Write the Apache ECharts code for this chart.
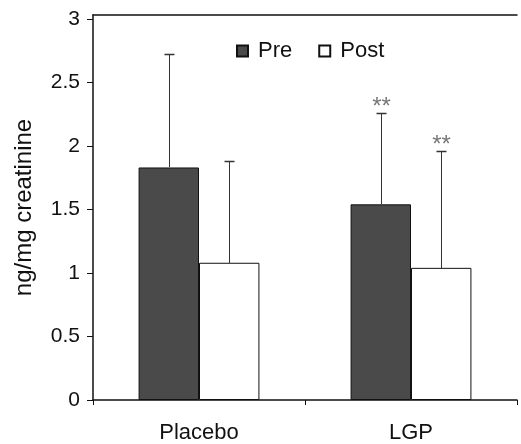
<!DOCTYPE html>
<html><head><meta charset="utf-8">
<script src="https://cdn.jsdelivr.net/npm/echarts@6/dist/echarts.min.js"></script>
<style>html,body{margin:0;padding:0;background:#fff}#c{width:521px;height:444px}</style>
</head><body><div id="c"></div>
<script>
var categories = ['Placebo', 'LGP'];
var preValues = [1.83, 1.54];
var postValues = [1.08, 1.04];
var preErrorTop = [2.72, 2.26];
var postErrorTop = [1.88, 1.96];
var preMarks = ['', '**'];
var postMarks = ['', '**'];
var seriesNames = ['Pre', 'Post'];

var FONT = '"Liberation Sans", Arial, sans-serif';
var GAP = 0.43;
function errSeries(tops, marks, side) {
  return {
    type: 'custom',
    xAxisIndex: 0, yAxisIndex: 0,
    z: 5,
    silent: true,
    data: tops.map(function (t, i) { return [i, t]; }),
    renderItem: function (params, api) {
      var i = api.value(0), top = api.value(1);
      var base = side < 0 ? preValues[i] : postValues[i];
      var band = api.size([1, 0])[0];
      var bw = band * (1 - GAP) / 2;
      var c = api.coord([i, top]);
      var b = api.coord([i, base]);
      var x = Math.round(c[0] + side * bw / 2) + 0.5;
      var yt = Math.round(c[1]) + 0.5;
      var children = [
        { type: 'line', shape: { x1: x, y1: Math.round(b[1]), x2: x, y2: yt }, style: { stroke: '#333', lineWidth: 1 } },
        { type: 'line', shape: { x1: x - 5, y1: yt, x2: x + 5, y2: yt }, style: { stroke: '#333', lineWidth: 1.5 } }
      ];
      if (marks[i]) {
        children.push({ type: 'text', style: { text: marks[i], x: x, y: yt - 18, align: 'center', verticalAlign: 'top', fill: '#777', font: '24px ' + FONT } });
      }
      return { type: 'group', children: children };
    }
  };
}

var chart = echarts.init(document.getElementById('c'), null, { renderer: 'canvas' });
chart.setOption({
  animation: false,
  backgroundColor: '#fff',
  textStyle: { fontFamily: FONT },
  grid: { left: 93, right: 4, top: 15, bottom: 44, containLabel: false },
  legend: {
    data: seriesNames,
    top: 40, left: 236, padding: 0,
    itemWidth: 11, itemHeight: 11, itemGap: 26,
    icon: 'rect',
    textStyle: { fontSize: 22, color: '#111', fontFamily: FONT, padding: [0, 0, 0, 5] }
  },
  xAxis: [{
    type: 'category', data: categories,
    axisLine: { lineStyle: { color: '#111', width: 1.5 } },
    axisTick: { show: true, length: 5, alignWithLabel: false, lineStyle: { color: '#111' } },
    axisLabel: { fontSize: 22, color: '#111', margin: 22 }
  }, {
    type: 'category', data: categories, position: 'top',
    axisLine: { show: true, lineStyle: { color: '#111', width: 1.5 } },
    axisTick: { show: false }, axisLabel: { show: false }
  }],
  yAxis: {
    type: 'value', min: 0, max: 3.03, interval: 0.5,
    name: 'ng/mg creatinine', nameLocation: 'middle', nameGap: 57, nameRotate: 90,
    nameTextStyle: { fontSize: 24, color: '#111' },
    axisLine: { show: true, lineStyle: { color: '#111', width: 1.5 } },
    axisTick: { show: true, length: 6, lineStyle: { color: '#111' } },
    axisLabel: { fontSize: 21, color: '#111', margin: 13, showMaxLabel: false },
    splitLine: { show: false }
  },
  series: [
    { name: seriesNames[0], type: 'bar', data: preValues, barGap: '0%', barCategoryGap: (GAP * 100) + '%',
      itemStyle: { color: '#4a4a4a', borderColor: '#111', borderWidth: 1 } },
    { name: seriesNames[1], type: 'bar', data: postValues, barGap: '0%', barCategoryGap: (GAP * 100) + '%',
      itemStyle: { color: '#fff', borderColor: '#111', borderWidth: 1 } },
    errSeries(preErrorTop, preMarks, -1),
    errSeries(postErrorTop, postMarks, 1)
  ]
});
</script></body></html>
